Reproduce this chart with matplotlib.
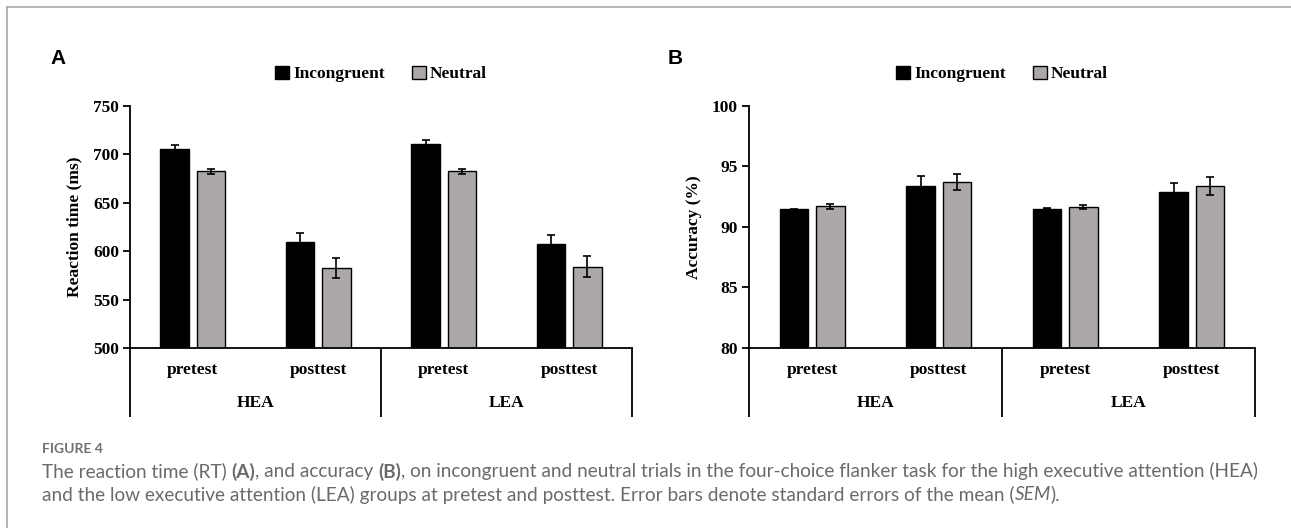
import matplotlib
matplotlib.use('Agg')
import matplotlib.pyplot as plt
from matplotlib.patches import Patch
from matplotlib.lines import Line2D
import numpy as np

# ---------------- data ----------------
groups = ['HEA', 'LEA']
sessions = ['pretest', 'posttest', 'pretest', 'posttest']
conditions = ['Incongruent', 'Neutral']

rt_incongruent = [706, 609, 711, 607]
rt_incongruent_se = [3.5, 9.7, 3.9, 9.3]
rt_neutral = [682.5, 583, 682.5, 584]
rt_neutral_se = [2.7, 10.2, 2.7, 10.6]

acc_incongruent = [91.46, 93.35, 91.51, 92.86]
acc_incongruent_se = [0.05, 0.83, 0.03, 0.78]
acc_neutral = [91.70, 93.72, 91.65, 93.41]
acc_neutral_se = [0.20, 0.70, 0.17, 0.76]

rt_ticks = [500, 550, 600, 650, 700, 750]
acc_ticks = [80, 85, 90, 95, 100]

# ---------------- style ----------------
W, H = 1291, 528
plt.rcParams['font.family'] = ['Liberation Serif', 'DejaVu Serif']
plt.rcParams['font.weight'] = 'bold'
SERIF = ['Liberation Serif', 'DejaVu Serif']
GRAY = '#aba8a7'
FS = 12.5

fig = plt.figure(figsize=(W / 100, H / 100), dpi=100)
fig.patch.set_facecolor('white')

# outer frame (top and left)
frame_c = '#a8a8a8'
fig.add_artist(Line2D([7 / W, 1], [1 - 7 / H, 1 - 7 / H], transform=fig.transFigure,
                      color=frame_c, lw=1.2))
fig.add_artist(Line2D([7 / W, 7 / W], [0, 1 - 7 / H], transform=fig.transFigure,
                      color=frame_c, lw=1.2))


def panel(rect, inc, inc_se, neu, neu_se, ticks, ylabel, ylab_x, letter, letter_x):
    ax = fig.add_axes(rect)
    x = np.arange(len(inc))
    w = 0.227
    off = 0.1435
    ax.bar(x - off, inc, w, color='black', edgecolor='black', lw=1.0, zorder=2)
    ax.bar(x + off, neu, w, color=GRAY, edgecolor='black', lw=1.0, zorder=2)
    ax.errorbar(x - off, inc, yerr=inc_se, fmt='none', ecolor='black',
                elinewidth=1.2, capsize=3, capthick=1.2, zorder=3)
    ax.errorbar(x + off, neu, yerr=neu_se, fmt='none', ecolor='black',
                elinewidth=1.2, capsize=3, capthick=1.2, zorder=3)
    ax.set_xlim(-0.5, len(inc) - 0.5)
    ax.set_ylim(ticks[0], ticks[-1])
    ax.set_yticks(ticks)
    ax.set_yticklabels([str(t) for t in ticks])
    ax.set_xticks([])
    for s in ['top', 'right']:
        ax.spines[s].set_visible(False)
    for s in ['left', 'bottom']:
        ax.spines[s].set_linewidth(1.3)
        ax.spines[s].set_color('black')
    ax.tick_params(axis='y', direction='out', length=5, width=1.3,
                   labelsize=FS, pad=3)
    for lab in ax.get_yticklabels():
        lab.set_fontweight('bold')
        lab.set_family(SERIF)

    trans = ax.get_xaxis_transform()
    hpx = rect[3] * H
    for i, s in enumerate(sessions):
        ax.text(i, -22 / hpx, s, transform=trans, ha='center', va='center',
                fontsize=FS, fontweight='bold', family=SERIF)
    for j, g in enumerate(groups):
        ax.text(2 * j + 0.5, -55 / hpx, g, transform=trans, ha='center', va='center',
                fontsize=FS, fontweight='bold', family=SERIF)
    for xs in [-0.5, 1.5, 3.5]:
        ax.plot([xs, xs], [0, -69 / hpx], transform=trans, color='black',
                lw=1.3, clip_on=False, solid_capstyle='butt')

    handles = [Patch(facecolor='black', edgecolor='black', lw=1.0),
               Patch(facecolor=GRAY, edgecolor='black', lw=1.0)]
    ax.legend(handles, conditions, loc='center',
              bbox_to_anchor=(0.5, 1 + 32 / hpx), ncol=2, frameon=False,
              handlelength=0.8, handleheight=0.75, handletextpad=0.25,
              columnspacing=1.55, borderaxespad=0, borderpad=0,
              prop=dict(family=SERIF, weight='bold', size=FS))

    fig.text(ylab_x / W, 1 - 227 / H, ylabel, rotation=90, ha='center', va='center',
             fontsize=FS, fontweight='bold', family=SERIF)
    fig.text(letter_x / W, 1 - 58 / H, letter, ha='left', va='center',
             fontsize=15, fontweight='bold', family=['Liberation Sans', 'DejaVu Sans'])
    return ax


panel([130 / W, 1 - 348 / H, 502 / W, 242 / H], rt_incongruent, rt_incongruent_se,
      rt_neutral, rt_neutral_se, rt_ticks, 'Reaction time (ms)', 74.6, 'A', 50)
panel([749 / W, 1 - 348 / H, 506 / W, 242 / H], acc_incongruent, acc_incongruent_se,
      acc_neutral, acc_neutral_se, acc_ticks, 'Accuracy (%)', 694, 'B', 668)

# ---------------- caption ----------------
CAP_FONT = ['Lato', 'DejaVu Sans']
CAP_COLOR = '#6a6a6a'
renderer = fig.canvas.get_renderer()

fig.text(42 / W, 1 - 453 / H, 'FIGURE 4', ha='left', va='baseline', fontsize=10,
         fontweight='bold', family=CAP_FONT, color='#707070')

line1 = [("The reaction time (RT) ", 'normal', 'normal'),
         ("(A)", 'bold', 'normal'),
         (", and accuracy ", 'normal', 'normal'),
         ("(B)", 'bold', 'normal'),
         (", on incongruent and neutral trials in the four-choice flanker task for the high executive attention (HEA)", 'normal', 'normal')]
line2 = [("and the low executive attention (LEA) groups at pretest and posttest. Error bars denote standard errors of the mean (", 'normal', 'normal'),
         ("SEM", 'normal', 'italic'),
         (").", 'normal', 'normal')]


def measure(text, size, weight='normal', style='normal'):
    t = fig.text(0, 0, text, fontsize=size, fontweight=weight, fontstyle=style,
                 family=CAP_FONT)
    wpx = t.get_window_extent(renderer).width
    t.remove()
    return wpx


def draw_line(segs, x0, y, size, draw=True):
    x = x0
    sp = measure('a a', size) - measure('aa', size)
    for text, weight, style in segs:
        core = text.rstrip(' ')
        ntr = len(text) - len(core)
        t = fig.text(x / W, 1 - y / H, core, ha='left', va='baseline', fontsize=size,
                     fontweight=weight, fontstyle=style, family=CAP_FONT, color=CAP_COLOR)
        wpx = t.get_window_extent(renderer).width
        if not draw:
            t.remove()
        x += wpx + ntr * sp
    return x - x0


s0 = 12.0
wid = draw_line(line1, 42, 477.5, s0, draw=False)
size = s0 * 1213.0 / wid
draw_line(line1, 42, 477.5, size)
draw_line(line2, 42, 500.5, size)

fig.savefig('out.png', dpi=100, facecolor='white')
